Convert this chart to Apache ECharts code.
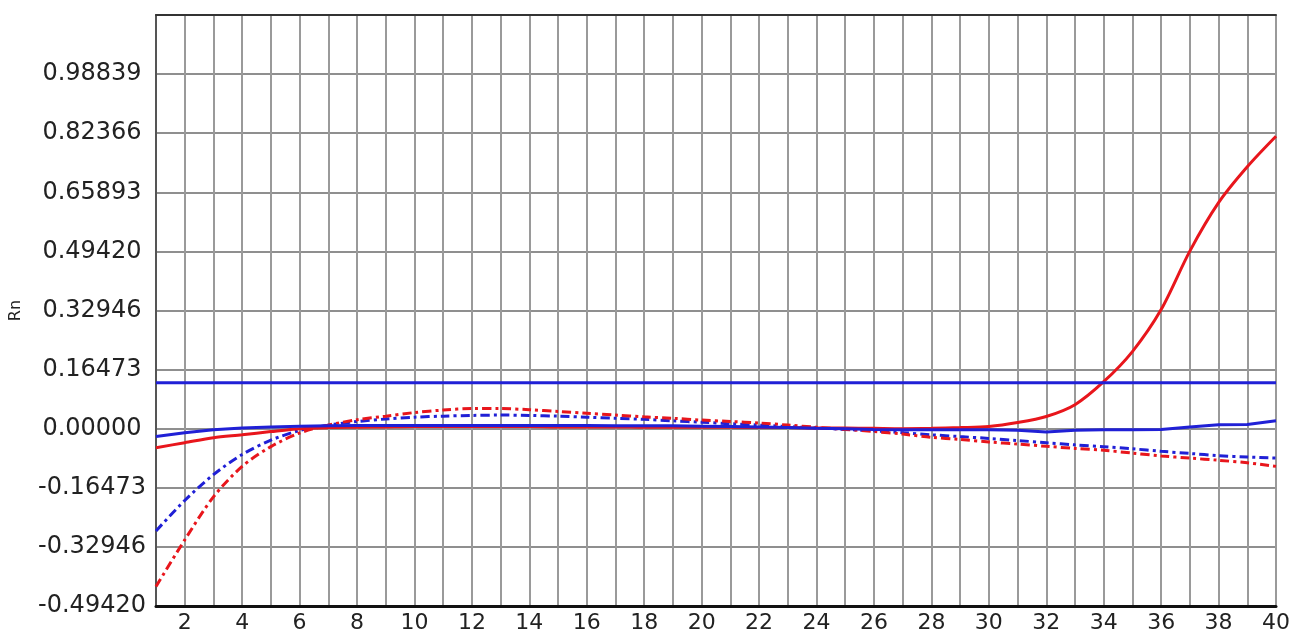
<!DOCTYPE html>
<html>
<head>
<meta charset="utf-8">
<script src="https://cdn.jsdelivr.net/npm/echarts@6/dist/echarts.min.js"></script>
<style>
  html, body { margin: 0; padding: 0; background: #fff; }
  #chart { width: 1296px; height: 635px; }
</style>
</head>
<body>
<div id="chart"></div>
<script>
// cycles 1..40
var cycles = [];
for (var c = 1; c <= 40; c++) cycles.push(String(c));

// y axis ticks (Rn)
var yStep = 0.164732;
var yMin = -3 * yStep;
var yMax = 7 * yStep;
var yTickLabels = ['-0.49420', '-0.32946', '-0.16473', '0.00000', '0.16473',
  '0.32946', '0.49420', '0.65893', '0.82366', '0.98839', ''];

var threshold = 0.128;

// amplifying sample, red solid
var redSolid = [-0.053, -0.039, -0.025, -0.017, -0.008, 0.000, 0.003, 0.004, 0.005, 0.006,
  0.006, 0.006, 0.006, 0.006, 0.005, 0.005, 0.005, 0.004, 0.004, 0.004,
  0.004, 0.003, 0.003, 0.002, 0.002, 0.001, 0.000, 0.001, 0.003, 0.006,
  0.017, 0.034, 0.067, 0.131, 0.215, 0.332, 0.495, 0.630, 0.730, 0.815];

// blue solid
var blueSolid = [-0.022, -0.011, -0.003, 0.002, 0.005, 0.007, 0.008, 0.009, 0.009, 0.009,
  0.009, 0.009, 0.009, 0.009, 0.009, 0.009, 0.008, 0.008, 0.008, 0.007,
  0.006, 0.005, 0.003, 0.001, 0.000, -0.002, -0.003, -0.003, -0.003, -0.003,
  -0.004, -0.009, -0.004, -0.003, -0.003, -0.002, 0.005, 0.011, 0.012, 0.022];

// red dash-dot
var redDash = [-0.440, -0.310, -0.190, -0.105, -0.050, -0.012, 0.010, 0.025, 0.035, 0.045,
  0.052, 0.056, 0.056, 0.053, 0.048, 0.043, 0.038, 0.033, 0.029, 0.024,
  0.020, 0.016, 0.010, 0.004, -0.002, -0.008, -0.015, -0.024, -0.030, -0.037,
  -0.043, -0.049, -0.055, -0.060, -0.068, -0.076, -0.082, -0.088, -0.095, -0.105];

// blue dash-dot
var blueDash = [-0.285, -0.200, -0.128, -0.072, -0.032, -0.005, 0.010, 0.020, 0.027, 0.032,
  0.035, 0.037, 0.038, 0.037, 0.035, 0.032, 0.029, 0.026, 0.022, 0.018,
  0.014, 0.010, 0.006, 0.002, -0.002, -0.006, -0.011, -0.017, -0.022, -0.027,
  -0.033, -0.039, -0.045, -0.050, -0.056, -0.063, -0.069, -0.075, -0.079, -0.082];

var RED = '#e8161c';
var BLUE = '#2020d6';
var FONT = 'DejaVu Sans';

var myChart = echarts.init(document.getElementById('chart'));

var lineSeries = function (name, data, color, dashed, smooth) {
  return {
    name: name,
    type: 'line',
    data: data,
    showSymbol: false,
    smooth: smooth || false,
    lineStyle: { color: color, width: 3, type: dashed ? [9, 4, 3, 4] : 'solid' },
    z: dashed ? 2 : 3
  };
};

myChart.setOption({
  animation: false,
  backgroundColor: '#fff',
  grid: { left: 156, right: 20, top: 15, bottom: 29 },
  xAxis: [{
    type: 'category',
    data: cycles,
    boundaryGap: false,
    axisLine: { onZero: false, lineStyle: { color: '#111', width: 3 } },
    axisTick: { show: false },
    axisLabel: {
      interval: function (i) { return i % 2 === 1; },
      color: '#222', fontFamily: FONT, fontSize: 22, margin: 6
    },
    splitLine: { show: true, interval: 0, lineStyle: { color: '#9a9a9a', width: 2 } }
  }, {
    type: 'category',
    data: cycles,
    position: 'top',
    boundaryGap: false,
    axisLine: { onZero: false, lineStyle: { color: '#333', width: 2 } },
    axisTick: { show: false },
    axisLabel: { show: false },
    splitLine: { show: false }
  }],
  yAxis: {
    type: 'value',
    min: yMin,
    max: yMax,
    interval: yStep,
    name: 'Rn',
    nameLocation: 'middle',
    nameRotate: 90,
    nameGap: 132,
    nameTextStyle: { color: '#222', fontFamily: FONT, fontSize: 16 },
    axisLine: { show: true, lineStyle: { color: '#555', width: 2 } },
    axisTick: { show: false },
    axisLabel: {
      align: 'center',
      margin: 64,
      color: '#222', fontFamily: FONT, fontSize: 24,
      formatter: function (v) {
        var i = Math.round((v - yMin) / yStep);
        return yTickLabels[i] || '';
      }
    },
    splitLine: { show: true, lineStyle: { color: '#8f8f8f', width: 2 } }
  },
  series: [
    lineSeries('blue dash', blueDash, BLUE, true, 0.3),
    lineSeries('red dash', redDash, RED, true, 0.3),
    lineSeries('red', redSolid, RED, false, 0.3),
    lineSeries('blue', blueSolid, BLUE, false, false),
    {
      name: 'threshold',
      type: 'line',
      data: cycles.map(function () { return threshold; }),
      showSymbol: false,
      lineStyle: { color: BLUE, width: 3 },
      z: 4
    }
  ]
});
</script>
</body>
</html>
